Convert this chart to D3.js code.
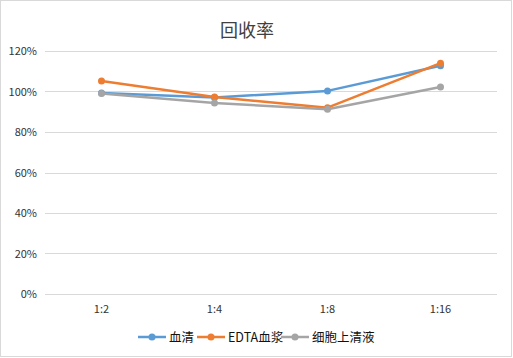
<!DOCTYPE html>
<html><head><meta charset="utf-8">
<script src="https://cdn.jsdelivr.net/npm/d3@7"></script>
<style>body{margin:0;background:#fff}svg{display:block}</style>
</head><body><svg id="c" width="513" height="358"></svg>
<script>
const categories = ["1:2","1:4","1:8","1:16"];
const seriesNames = ["血清","EDTA血浆","细胞上清液"];
const serum = [0.993, 0.97, 1.003, 1.127];
const edta = [1.052, 0.973, 0.92, 1.14];
const supernatant = [0.99, 0.943, 0.912, 1.022];
const yTicks = [0, 0.2, 0.4, 0.6, 0.8, 1.0, 1.2];
const colors = ["#5b9bd5","#ed7d31","#a5a5a5"];
const allSeries = [serum, edta, supernatant];

const svg = d3.select("#c");
svg.append("rect").attr("x",0.5).attr("y",0.5).attr("width",511).attr("height",356)
  .attr("fill","#fff").attr("stroke","#d9d9d9");
const font = "'Microsoft YaHei','Noto Sans CJK SC','DejaVu Sans',sans-serif";
svg.append("text").attr("x",247).attr("y",37).attr("text-anchor","middle")
  .attr("font-family",font).attr("font-size",18).attr("fill","#404040").text("回收率");

const x = d3.scaleBand().domain(categories).range([45,497]);
const y = d3.scaleLinear().domain([0,1.2]).range([294,51]);

const g = svg.append("g");
g.selectAll("line.grid").data(yTicks).join("line")
  .attr("x1",45).attr("x2",497).attr("y1",d=>Math.round(y(d))+0.5).attr("y2",d=>Math.round(y(d))+0.5)
  .attr("stroke","#d9d9d9").attr("stroke-width",1);
g.selectAll("text.yl").data(yTicks).join("text")
  .attr("x",37).attr("y",d=>y(d)+4).attr("text-anchor","end")
  .attr("font-family",font).attr("font-size",11).attr("fill","#333")
  .text(d=>Math.round(d*100)+"%");
g.selectAll("text.xl").data(categories).join("text")
  .attr("x",d=>x(d)+x.bandwidth()/2).attr("y",313).attr("text-anchor","middle")
  .attr("font-family",font).attr("font-size",11).attr("fill","#333").text(d=>d);

const line = d3.line().x((d,i)=>x(categories[i])+x.bandwidth()/2).y(d=>y(d));
allSeries.forEach((s,k)=>{
  g.append("path").datum(s).attr("d",line).attr("fill","none")
    .attr("stroke",colors[k]).attr("stroke-width",2.5).attr("stroke-linejoin","round");
  g.selectAll(null).data(s).join("circle")
    .attr("cx",(d,i)=>x(categories[i])+x.bandwidth()/2).attr("cy",d=>y(d)).attr("r",3.5)
    .attr("fill",colors[k]);
});

// legend
const legX = [138, 197, 281];
const leg = svg.append("g");
seriesNames.forEach((n,k)=>{
  const lx = legX[k];
  leg.append("line").attr("x1",lx).attr("x2",lx+28).attr("y1",337).attr("y2",337)
    .attr("stroke",colors[k]).attr("stroke-width",2.5);
  leg.append("circle").attr("cx",lx+14).attr("cy",337).attr("r",3.5).attr("fill",colors[k]);
  leg.append("text").attr("x",lx+31).attr("y",342).attr("font-family",font)
    .attr("font-size",12.5).attr("fill","#111").text(n);
});
</script></body></html>
